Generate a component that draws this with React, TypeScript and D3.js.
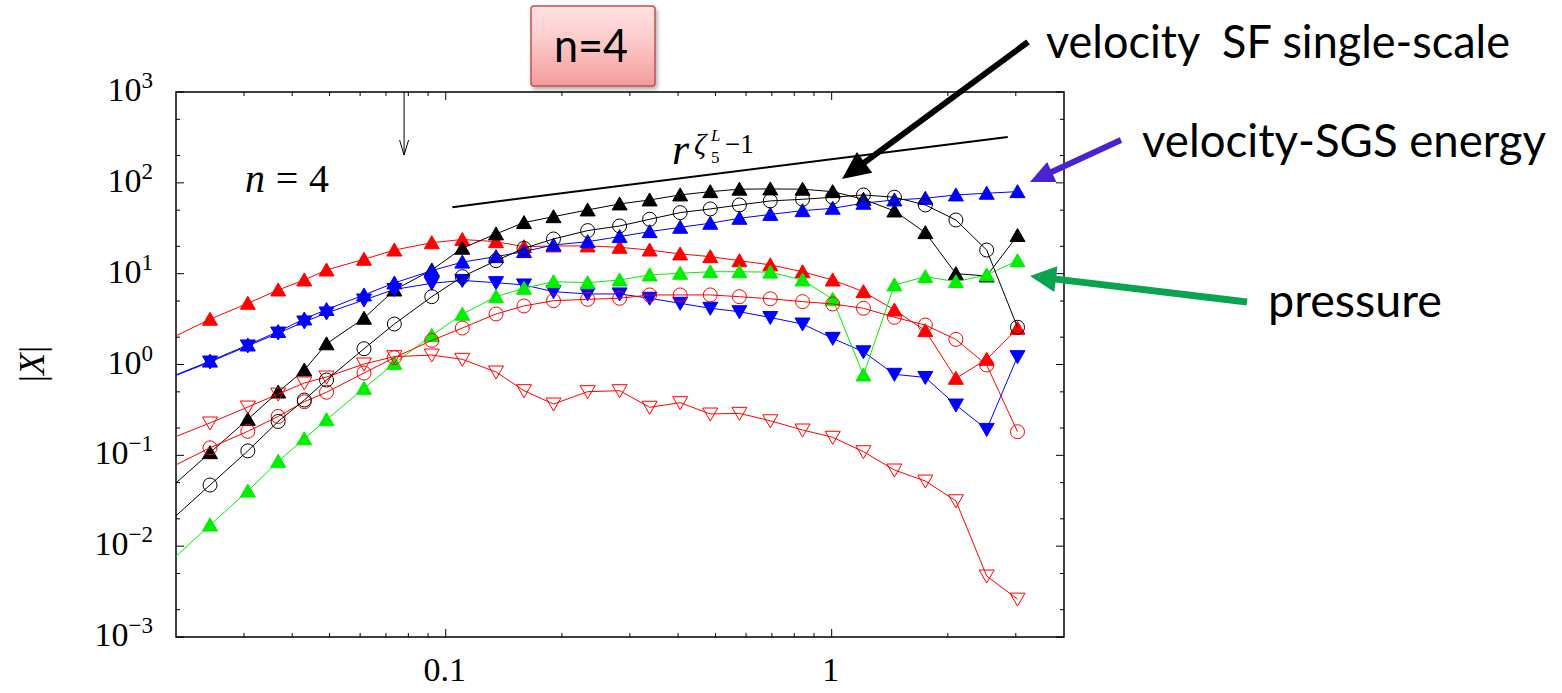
import React, { useEffect, useRef } from 'react';
import * as d3 from 'd3';

// separation r (first entry lies just left of the frame, only its line shows)
const rValues = [0.0184, 0.0245, 0.0307, 0.0368, 0.043, 0.0491, 0.0614, 0.0736, 0.092, 0.1104, 0.135, 0.1595, 0.1902, 0.2332, 0.2822, 0.3375, 0.405, 0.4847, 0.5768, 0.6934, 0.8406, 1.0063, 1.2088, 1.4542, 1.7487, 2.0985, 2.5219, 3.0311];

const redUp = [1.74, 3.15, 4.72, 6.61, 8.52, 10.98, 14.4, 18.2, 21.9, 23.8, 22.5, 19.8, 20.2, 20.2, 19.5, 18.2, 16.5, 15.4, 13.9, 12.5, 10.5, 8.52, 6.34, 3.98, 2.36, 0.705, 1.14, 2.5];
const blackUp = [0.0362, 0.107, 0.249, 0.498, 0.87, 1.69, 3.23, 6.61, 10.98, 19.05, 27.4, 36.5, 42.4, 50.3, 58.6, 64.8, 73.6, 80.0, 85.1, 85.7, 85.1, 80.0, 65.9, 49.0, 28.3, 10.0, 9.43, 26.3];
const blueUp = [0.666, 1.09, 1.64, 2.31, 3.17, 4.03, 5.83, 7.9, 10.8, 13.4, 15.4, 17.5, 20.7, 22.5, 25.6, 29.0, 32.4, 35.9, 40.7, 44.9, 49.4, 52.5, 59.6, 64.8, 67.6, 73.6, 76.8, 80.0];
const blueDown = [0.66, 1.065, 1.6, 2.22, 2.94, 3.69, 5.13, 6.7, 7.84, 8.42, 7.96, 7.51, 6.34, 5.98, 5.98, 5.36, 4.72, 4.16, 3.81, 3.29, 2.79, 1.94, 1.38, 0.78, 0.72, 0.358, 0.193, 1.22];
const greenUp = [0.00557, 0.01708, 0.0404, 0.0859, 0.152, 0.247, 0.547, 1.03, 2.09, 3.58, 5.58, 6.9, 8.17, 7.96, 8.52, 9.68, 10.1, 10.5, 10.5, 10.4, 8.52, 5.22, 0.766, 7.51, 9.27, 8.17, 9.68, 13.9];
const redCircle = [0.0658, 0.121, 0.184, 0.268, 0.389, 0.495, 0.806, 1.19, 1.84, 2.52, 3.6, 4.41, 5.04, 5.22, 5.36, 5.83, 5.83, 5.83, 5.58, 5.29, 4.92, 4.64, 4.16, 3.31, 2.72, 1.89, 0.987, 0.182];
const redDown = [0.14, 0.227, 0.34, 0.473, 0.626, 0.728, 1.013, 1.22, 1.27, 1.14, 0.827, 0.515, 0.367, 0.502, 0.515, 0.338, 0.38, 0.285, 0.29, 0.24, 0.19, 0.158, 0.1096, 0.0689, 0.0521, 0.0316, 0.00469, 0.00261];
const blackCircle = [0.0157, 0.0471, 0.112, 0.236, 0.406, 0.675, 1.49, 2.79, 5.58, 9.27, 13.9, 19.05, 24.1, 29.8, 33.5, 39.7, 47.0, 51.6, 57.1, 63.2, 65.9, 69.4, 73.6, 69.4, 57.1, 39.0, 18.2, 2.57];

// power-law guide line end points
const guideR = [0.104, 2.86];
const guideY = [54, 320];
const arrowR = 0.078;

const xTickLabels = ['0.1', '1'];
const xTickValues = [0.1, 1];
const yTickExps = [-3, -2, -1, 0, 1, 2, 3];

const App = () => {
    const svgRef = useRef<SVGSVGElement>(null);

    useEffect(() => {
        const svg = d3.select(svgRef.current);
        svg.selectAll('*').remove();

        const left = 176, right = 1064, top = 92, bottom = 637;
        const x = d3.scaleLog().domain([0.02, 4]).range([left, right]);
        const y = d3.scaleLog().domain([1e-3, 1e3]).range([bottom, top]);

        const defs = svg.append('defs');
        defs.append('clipPath').attr('id', 'plotClip')
            .append('rect').attr('x', left).attr('y', top)
            .attr('width', right - left).attr('height', bottom - top);
        const grad = defs.append('linearGradient').attr('id', 'boxGrad')
            .attr('x1', 0).attr('y1', 0).attr('x2', 0).attr('y2', 1);
        grad.append('stop').attr('offset', '0%').attr('stop-color', '#ffe2e2');
        grad.append('stop').attr('offset', '45%').attr('stop-color', '#fcc9c9');
        grad.append('stop').attr('offset', '100%').attr('stop-color', '#f39b9b');
        const shadow = defs.append('filter').attr('id', 'shadow')
            .attr('x', '-20%').attr('y', '-20%').attr('width', '140%').attr('height', '140%');
        shadow.append('feDropShadow').attr('dx', 2).attr('dy', 3)
            .attr('stdDeviation', 2).attr('flood-color', '#000').attr('flood-opacity', 0.3);

        const serif = '"Liberation Serif", "DejaVu Serif", serif';
        const sans = 'Lato, "Open Sans", sans-serif';

        // frame
        svg.append('rect')
            .attr('x', left).attr('y', top)
            .attr('width', right - left).attr('height', bottom - top)
            .attr('fill', 'none').attr('stroke', '#000').attr('stroke-width', 1.5);

        // ticks, mirrored on all four sides and pointing inward
        const ticks = svg.append('g').attr('stroke', '#000').attr('stroke-width', 1);
        const xMinor: number[] = [];
        [0.01, 0.1, 1].forEach((dec) => {
            for (let k = 2; k <= 9; k++) {
                const v = dec * k;
                if (v > 0.02 && v < 4) xMinor.push(v);
            }
        });
        xMinor.forEach((v) => {
            ticks.append('line').attr('x1', x(v)).attr('x2', x(v)).attr('y1', bottom).attr('y2', bottom - 4);
            ticks.append('line').attr('x1', x(v)).attr('x2', x(v)).attr('y1', top).attr('y2', top + 4);
        });
        xTickValues.forEach((v) => {
            ticks.append('line').attr('x1', x(v)).attr('x2', x(v)).attr('y1', bottom).attr('y2', bottom - 8);
            ticks.append('line').attr('x1', x(v)).attr('x2', x(v)).attr('y1', top).attr('y2', top + 8);
        });
        yTickExps.forEach((e) => {
            const v = Math.pow(10, e);
            ticks.append('line').attr('x1', left).attr('x2', left + 8).attr('y1', y(v)).attr('y2', y(v));
            ticks.append('line').attr('x1', right).attr('x2', right - 8).attr('y1', y(v)).attr('y2', y(v));
            if (e < 3) {
                [2, 5].forEach((k) => {
                    const m = v * k;
                    ticks.append('line').attr('x1', left).attr('x2', left + 4).attr('y1', y(m)).attr('y2', y(m));
                    ticks.append('line').attr('x1', right).attr('x2', right - 4).attr('y1', y(m)).attr('y2', y(m));
                });
            }
        });

        // tick labels
        xTickValues.forEach((v, i) => {
            svg.append('text')
                .attr('x', x(v) - 1).attr('y', 681)
                .attr('text-anchor', 'middle')
                .attr('font-family', serif).attr('font-size', 34)
                .text(xTickLabels[i]);
        });
        yTickExps.forEach((e) => {
            const t = svg.append('text')
                .attr('x', 153).attr('y', y(Math.pow(10, e)) + 9)
                .attr('text-anchor', 'end')
                .attr('font-family', serif).attr('font-size', 34);
            t.append('tspan').text('10');
            t.append('tspan').attr('font-size', 23).attr('dy', -13)
                .text(e < 0 ? '\u2212' + Math.abs(e) : String(e));
        });

        // y label |X|
        const yl = svg.append('text')
            .attr('transform', 'translate(44,364) rotate(-90)')
            .attr('text-anchor', 'middle')
            .attr('font-family', serif).attr('font-size', 36);
        yl.append('tspan').text('|');
        yl.append('tspan').attr('font-style', 'italic').text('X');
        yl.append('tspan').text('|');

        // data
        const plotG = svg.append('g').attr('clip-path', 'url(#plotClip)');

        const line = d3.line<number>()
            .x((d, i) => x(rValues[i]))
            .y((d) => y(d));

        const upTri = 'M0,-7L7.5,6L-7.5,6Z';
        const downTri = 'M0,7L7.5,-6L-7.5,-6Z';

        const series = [
            { values: redUp, color: '#ff0000', marker: 'up', filled: true },
            { values: blackUp, color: '#000000', marker: 'up', filled: true },
            { values: blueUp, color: '#0000ff', marker: 'up', filled: true },
            { values: blueDown, color: '#0000ff', marker: 'down', filled: true },
            { values: greenUp, color: '#00ee00', marker: 'up', filled: true },
            { values: redCircle, color: '#ff0000', marker: 'circle', filled: false },
            { values: redDown, color: '#ff0000', marker: 'down', filled: false },
            { values: blackCircle, color: '#000000', marker: 'circle', filled: false },
        ];

        series.forEach((s) => {
            plotG.append('path')
                .datum(s.values)
                .attr('d', line)
                .attr('fill', 'none')
                .attr('stroke', s.color)
                .attr('stroke-width', 1);

            const pts = s.values
                .map((v, i) => ({ r: rValues[i], v }))
                .filter((d) => d.r >= 0.02);

            if (s.marker === 'circle') {
                plotG.selectAll(null)
                    .data(pts)
                    .enter()
                    .append('circle')
                    .attr('cx', (d) => x(d.r))
                    .attr('cy', (d) => y(d.v))
                    .attr('r', 7)
                    .attr('fill', 'none')
                    .attr('stroke', s.color)
                    .attr('stroke-width', 1);
            } else {
                plotG.selectAll(null)
                    .data(pts)
                    .enter()
                    .append('path')
                    .attr('d', s.marker === 'up' ? upTri : downTri)
                    .attr('transform', (d) => `translate(${x(d.r)},${y(d.v)})`)
                    .attr('fill', s.filled ? s.color : 'none')
                    .attr('stroke', s.color)
                    .attr('stroke-width', 1);
            }
        });

        // power-law guide
        svg.append('line')
            .attr('x1', x(guideR[0])).attr('y1', y(guideY[0]))
            .attr('x2', x(guideR[1])).attr('y2', y(guideY[1]))
            .attr('stroke', '#000').attr('stroke-width', 2);

        const gl = svg.append('g').attr('font-family', serif);
        gl.append('text').attr('x', 672).attr('y', 164).attr('font-size', 44).attr('font-style', 'italic').text('r');
        gl.append('text').attr('x', 694).attr('y', 154).attr('font-size', 30).attr('font-style', 'italic').text('\u03b6');
        gl.append('text').attr('x', 711).attr('y', 141).attr('font-size', 17).attr('font-style', 'italic').text('L');
        gl.append('text').attr('x', 711).attr('y', 163).attr('font-size', 17).text('5');
        gl.append('text').attr('x', 725).attr('y', 153).attr('font-size', 27).text('\u22121');

        // n = 4 label
        const nl = svg.append('text')
            .attr('x', 245).attr('y', 192)
            .attr('font-family', serif).attr('font-size', 40)
            .attr('textLength', 84)
            .style('white-space', 'pre');
        nl.append('tspan').attr('font-style', 'italic').text('n');
        nl.append('tspan').text(' = 4');

        // small arrow from top axis
        const ax = x(arrowR);
        const ag = svg.append('g').attr('stroke', '#000').attr('stroke-width', 1).attr('fill', 'none');
        ag.append('line').attr('x1', ax).attr('x2', ax).attr('y1', top).attr('y2', 155);
        ag.append('path').attr('d', `M${ax - 4.5},140L${ax},155L${ax + 4.5},140`);

        // pink title box
        svg.append('rect')
            .attr('x', 531).attr('y', 6).attr('width', 124).attr('height', 80).attr('rx', 3)
            .attr('fill', 'url(#boxGrad)').attr('stroke', '#c0504d').attr('stroke-width', 1.5)
            .attr('filter', 'url(#shadow)');
        svg.append('text')
            .attr('x', 554).attr('y', 62)
            .attr('font-family', sans).attr('font-size', 46)
            .attr('textLength', 74).attr('lengthAdjust', 'spacingAndGlyphs')
            .text('n=4');

        // annotation arrows
        const arrow = (x1: number, y1: number, x2: number, y2: number, color: string, lw: number, hl: number, hw: number) => {
            const dx = x2 - x1, dy = y2 - y1;
            const len = Math.hypot(dx, dy);
            const ux = dx / len, uy = dy / len;
            const bx = x2 - ux * hl, by = y2 - uy * hl;
            svg.append('line')
                .attr('x1', x1).attr('y1', y1).attr('x2', bx + ux * 2).attr('y2', by + uy * 2)
                .attr('stroke', color).attr('stroke-width', lw);
            svg.append('path')
                .attr('d', `M${x2},${y2}L${bx - (uy * hw) / 2},${by + (ux * hw) / 2}L${bx + (uy * hw) / 2},${by - (ux * hw) / 2}Z`)
                .attr('fill', color);
        };
        arrow(1028, 42, 842, 179, '#000000', 6, 28, 26);
        arrow(1121, 140, 1030, 182, '#4a22d0', 6, 24, 22);
        arrow(1247, 302, 1030, 276, '#0aa350', 7, 26, 26);

        const notes = [
            { text: 'velocity  SF single-scale', x: 1046, y: 58, len: 464 },
            { text: 'velocity-SGS energy', x: 1142, y: 157, len: 404 },
            { text: 'pressure', x: 1268, y: 317, len: 174 },
        ];
        notes.forEach((n) => {
            svg.append('text')
                .attr('x', n.x).attr('y', n.y)
                .attr('font-family', sans).attr('font-size', 46)
                .attr('textLength', n.len).attr('lengthAdjust', 'spacingAndGlyphs')
                .style('white-space', 'pre')
                .text(n.text);
        });
    }, []);

    return (
        <svg
            ref={svgRef}
            width={1562}
            height={693}
            style={{ position: 'absolute', left: 0, top: 0, background: '#fff', display: 'block' }}
        />
    );
};

export default App;
